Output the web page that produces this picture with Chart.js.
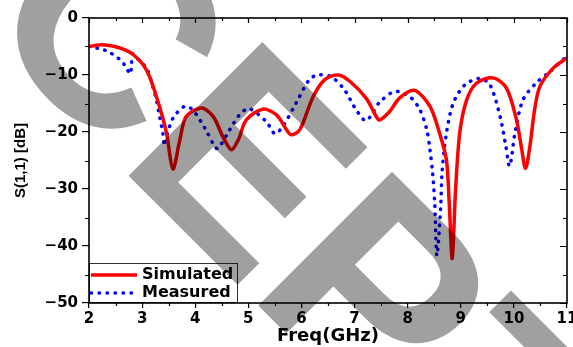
<!DOCTYPE html>
<html lang="en">
<head>
<meta charset="UTF-8">
<title>S(1,1) Simulated vs Measured</title>
<script src="https://cdn.jsdelivr.net/npm/chart.js@4.4.0/dist/chart.umd.min.js"></script>
<style>
    html, body { margin: 0; padding: 0; background: #fff; }
    .chart-box { position: relative; width: 573px; height: 347px; }
</style>
</head>
<body>
<div class="chart-box"><canvas id="s11Chart"></canvas></div>
<script>
// Simulated S(1,1)
const simFreq = [2.0, 2.25, 2.48, 2.68, 2.83, 3.02, 3.14, 3.33, 3.46, 3.58, 3.71, 3.83, 4.12, 4.34, 4.52, 4.68, 4.81, 4.96,
    5.27, 5.53, 5.72, 5.81, 5.97, 6.22, 6.44, 6.69, 6.91, 7.22, 7.41, 7.47, 7.66, 7.85, 8.13, 8.42, 8.6,
    8.73, 8.78, 8.84, 8.9, 8.98, 9.11, 9.3, 9.61, 9.86, 10.05, 10.14, 10.22, 10.3, 10.39, 10.49, 10.74, 11.0];
const simDb = [-5.0, -4.7, -5.0, -5.6, -6.4, -8.2, -10.3, -15.6, -20.2, -26.5, -21.4, -17.3, -15.8, -17.3, -20.8, -23.1, -21.4, -17.9,
    -16.0, -17.0, -19.6, -20.5, -19.6, -13.8, -10.8, -10.0, -11.1, -14.1, -17.3, -17.9, -16.4, -14.0, -12.7, -15.5, -20.2,
    -24.9, -32.0, -42.2, -30.5, -20.2, -14.4, -11.4, -10.5, -12.3, -17.9, -22.6, -26.4, -22.6, -16.1, -12.0, -8.8, -7.0];

// Measured S(1,1)
const measFreq = [2.0, 2.2, 2.37, 2.48, 2.61, 2.7, 2.78, 2.8, 2.82, 2.92, 3.02, 3.11, 3.2, 3.27, 3.33, 3.39, 3.42, 3.46,
    3.58, 3.8, 3.95, 4.18, 4.37, 4.43, 4.65, 4.85, 5.02, 5.34, 5.5, 5.65, 5.9, 6.15, 6.31, 6.56, 6.81, 7.03, 7.22,
    7.47, 7.76, 8.04, 8.23, 8.36, 8.42, 8.47, 8.51, 8.55, 8.62, 8.65, 8.73, 8.86, 9.08, 9.36, 9.55, 9.74, 9.85,
    9.92, 10.02, 10.17, 10.42, 10.68, 10.96];
const measDb = [-5.0, -5.4, -5.9, -6.6, -7.5, -8.7, -9.8, -8.2, -6.3, -7.2, -8.1, -9.3, -12.0, -14.4, -17.3, -20.2, -22.4, -20.8,
    -17.6, -15.5, -16.1, -19.3, -22.6, -22.9, -19.6, -16.8, -15.9, -18.2, -20.3, -19.0, -14.9, -10.8, -10.0, -10.3, -12.6, -16.1, -18.0,
    -14.8, -12.9, -13.8, -16.1, -19.6, -23.1, -27.2, -32.5, -41.7, -33.5, -26.7, -20.2, -14.9, -11.7, -10.6, -11.7, -17.3, -22.6,
    -26.0, -20.2, -14.4, -11.4, -9.4, -7.0];

const xRange = [2, 11];
const yRange = [-50, 0];
const seriesLabels = ['Simulated', 'Measured'];

const boldFont = (size, family) => ({ family: family || 'DejaVu Sans', weight: 'bold', size: size });

// origin-style frame, minor ticks, mirrored ticks on top/right
const frameTicks = {
    id: 'frameTicks',
    beforeDraw(chart) {
        const ctx = chart.ctx;
        ctx.save();
        ctx.fillStyle = '#fff';
        ctx.fillRect(0, 0, chart.width, chart.height);
        ctx.restore();
    },
    afterDatasetsDraw(chart) {
        // legend box in the lower left corner
        const { ctx, chartArea: a } = chart;
        const ds = chart.data.datasets;
        const left = a.left, top = a.bottom - 40, w = 148;
        ctx.save();
        ctx.fillStyle = '#fff';
        ctx.fillRect(left, top, w, 40);
        ctx.strokeStyle = '#333';
        ctx.lineWidth = 1;
        ctx.strokeRect(left + 0.5, top + 0.5, w, 39);
        const rows = [top + 12, top + 30];
        ds.forEach((d, i) => {
            ctx.beginPath();
            ctx.strokeStyle = d.borderColor;
            ctx.lineWidth = d.borderWidth;
            ctx.lineCap = d.borderCapStyle || 'butt';
            ctx.setLineDash(d.borderDash || []);
            ctx.moveTo(left + 2, rows[i]);
            ctx.lineTo(left + 48, rows[i]);
            ctx.stroke();
            ctx.setLineDash([]);
            ctx.fillStyle = '#000';
            ctx.font = 'bold 16px "DejaVu Sans"';
            ctx.textBaseline = 'middle';
            ctx.fillText(d.label, left + 53, rows[i]);
        });
        ctx.restore();
    },
    afterDraw(chart) {
        const { ctx, chartArea: a, scales: { x, y } } = chart;
        ctx.save();
        ctx.strokeStyle = '#000';
        ctx.lineWidth = 1.2;
        ctx.beginPath();
        for (let f = xRange[0]; f <= xRange[1]; f += 0.5) {
            const px = Math.round(x.getPixelForValue(f)) + 0.5;
            const major = Number.isInteger(f);
            ctx.moveTo(px, a.top);
            ctx.lineTo(px, a.top + (major ? 5 : 3));
            if (!major) {
                ctx.moveTo(px, a.bottom);
                ctx.lineTo(px, a.bottom + 3);
            }
        }
        for (let v = yRange[1]; v >= yRange[0]; v -= 5) {
            const py = Math.round(y.getPixelForValue(v)) + 0.5;
            const major = v % 10 === 0;
            ctx.moveTo(a.right, py);
            ctx.lineTo(a.right - (major ? 7 : 4), py);
            if (!major) {
                ctx.moveTo(a.left, py);
                ctx.lineTo(a.left - 4, py);
            }
        }
        ctx.stroke();
        ctx.lineWidth = 1.6;
        ctx.strokeRect(a.left, a.top, a.right - a.left, a.bottom - a.top);
        ctx.restore();

        // grey "ACCEPTED" watermark across the figure
        ctx.save();
        ctx.globalCompositeOperation = 'multiply';
        ctx.fillStyle = '#a0a0a0';
        const size = 275;
        ctx.font = 'bold ' + size + 'px "Liberation Sans"';
        const lead = ctx.measureText('ACC').width + ctx.measureText('E').width / 2;
        ctx.translate(250, 158);
        ctx.rotate(Math.PI / 4);
        ctx.textBaseline = 'alphabetic';
        ctx.fillText('ACCEPTED', -lead, size * 0.716 / 2);
        ctx.restore();
    }
};

const ctx = document.getElementById('s11Chart').getContext('2d');
new Chart(ctx, {
    type: 'line',
    data: {
        datasets: [
            {
                label: seriesLabels[0],
                data: simFreq.map((f, i) => ({ x: f, y: simDb[i] })),
                borderColor: '#ff0000',
                borderWidth: 3.5,
                pointRadius: 0,
                tension: 0.3,
                fill: false
            },
            {
                label: seriesLabels[1],
                data: measFreq.map((f, i) => ({ x: f, y: measDb[i] })),
                borderColor: '#0000ff',
                borderWidth: 3.5,
                borderDash: [0.5, 7.5],
                borderCapStyle: 'round',
                pointRadius: 0,
                tension: 0.3,
                fill: false
            }
        ]
    },
    options: {
        responsive: true,
        maintainAspectRatio: false,
        animation: false,
        layout: { padding: { left: 12, right: 6, top: 18, bottom: 0 } },
        plugins: {
            legend: { display: false },
            tooltip: { enabled: false }
        },
        scales: {
            x: {
                type: 'linear',
                min: xRange[0],
                max: xRange[1],
                ticks: { stepSize: 1, color: '#000', font: boldFont(15), padding: 2, maxRotation: 0, autoSkip: false },
                grid: { drawOnChartArea: false, tickLength: 5, color: '#000', lineWidth: 1.2 },
                border: { display: false },
                title: { display: true, text: 'Freq(GHz)', color: '#000', font: boldFont(18), padding: 0 },
                afterFit(scale) {
                    scale.height = 44;
                    scale.paddingLeft = 0;
                    scale.paddingRight = 0;
                }
            },
            y: {
                min: yRange[0],
                max: yRange[1],
                ticks: {
                    stepSize: 10, color: '#000', font: boldFont(15), padding: 4,
                    callback: v => v < 0 ? '\u2212' + Math.abs(v) : String(v)
                },
                grid: { drawOnChartArea: false, tickLength: 7, color: '#000', lineWidth: 1.2 },
                border: { display: false },
                title: { display: true, text: 'S(1,1) [dB]', color: '#000', font: boldFont(15, 'Liberation Sans'), padding: 0 },
                afterFit(scale) {
                    scale.width = 77;
                    scale.paddingTop = 0;
                    scale.paddingBottom = 0;
                }
            }
        }
    },
    plugins: [frameTicks]
});
</script>
</body>
</html>
